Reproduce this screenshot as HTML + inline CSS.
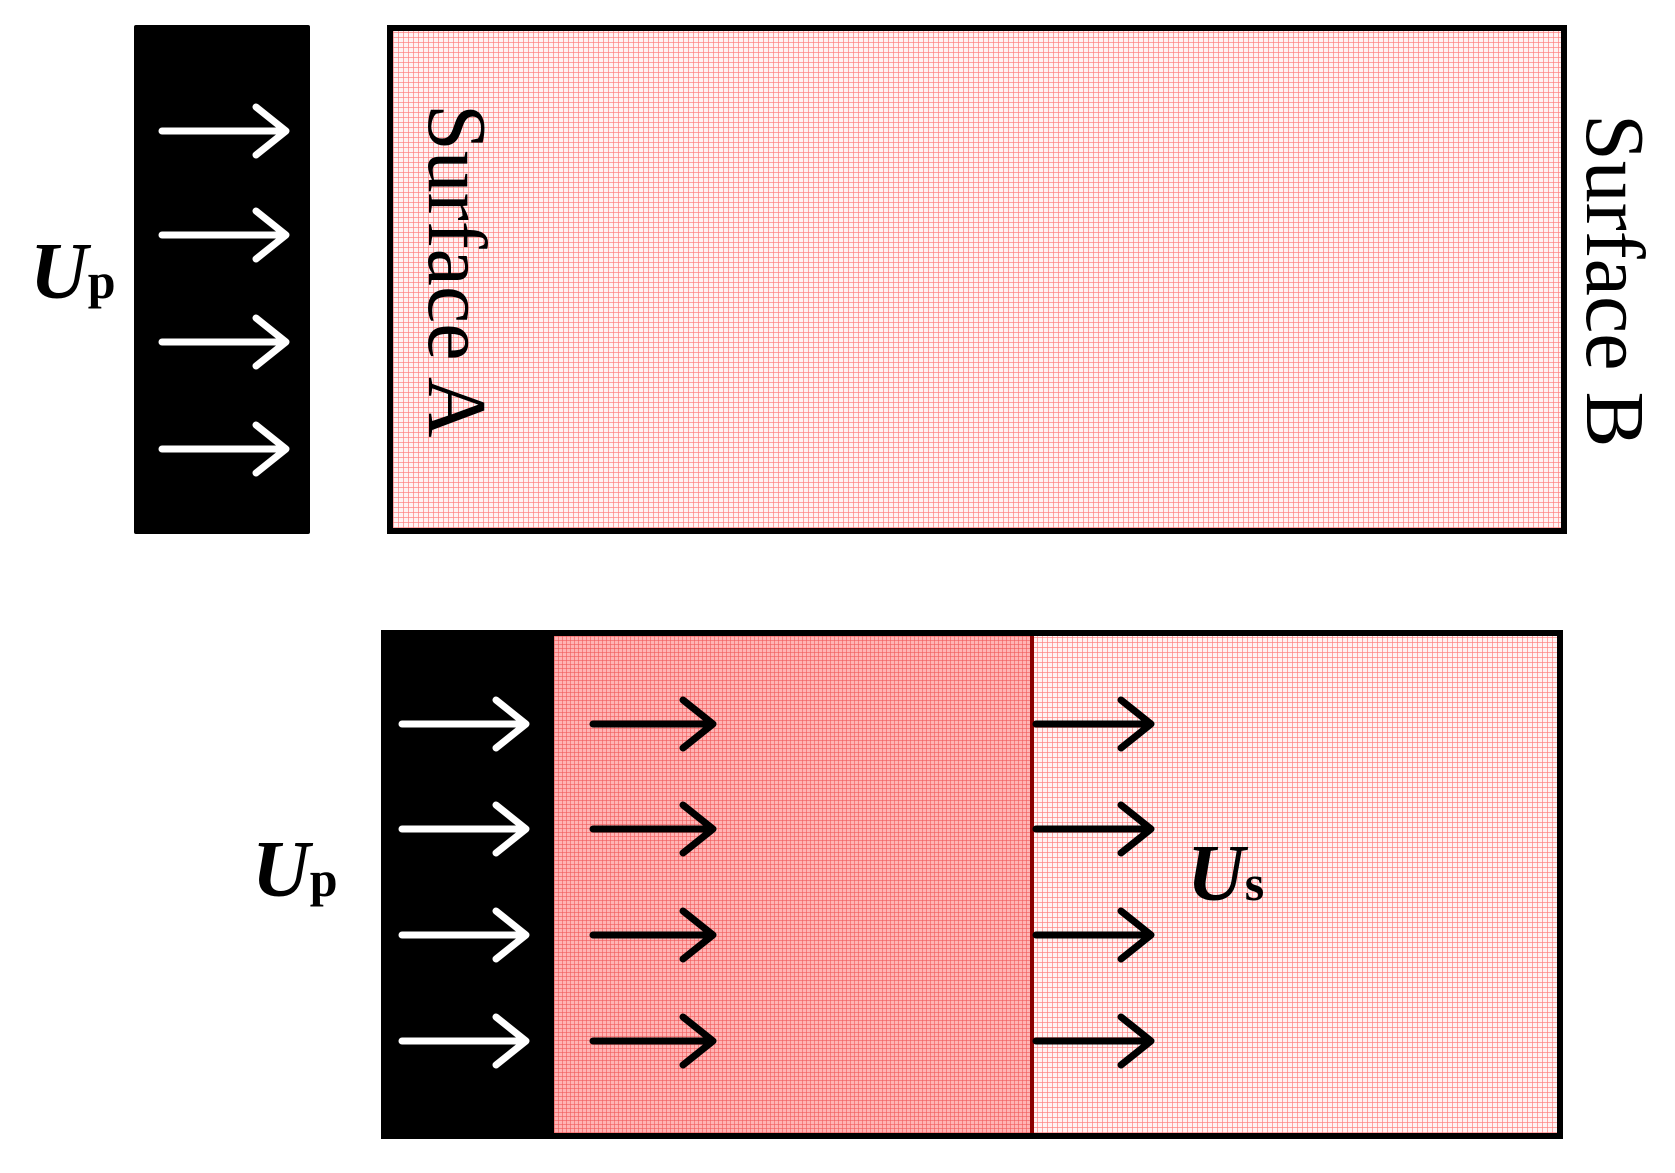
<!DOCTYPE html>
<html><head><style>
html,body{margin:0;padding:0;background:#fff}
body{width:1675px;height:1173px;position:relative;overflow:hidden;font-family:"Liberation Serif",serif}
.abs{position:absolute}
.light{background-color:#fff4f4;background-image:repeating-linear-gradient(90deg,rgba(255,130,130,.7) 0 1px,transparent 1px 5px),repeating-linear-gradient(0deg,rgba(255,130,130,.7) 0 1px,transparent 1px 5px)}
.dense{background-color:#ffb4b4;background-image:repeating-linear-gradient(90deg,rgba(240,90,90,.6) 0 1px,transparent 1px 4px),repeating-linear-gradient(0deg,rgba(240,90,90,.6) 0 1px,transparent 1px 4px)}
.lbl{font-weight:bold;font-style:italic;font-size:80px;line-height:1}
.sub{font-weight:bold;font-style:normal;font-size:50px}
.rot{transform-origin:0 0;transform:rotate(90deg);font-size:84px;white-space:nowrap;line-height:1}
</style></head><body>
<div class="abs" style="left:134px;top:25px;width:176px;height:509px;background:#000;border-radius:2px"></div>
<div class="abs light" style="left:387px;top:25px;width:1168px;height:497px;border:6px solid #000"></div>
<div class="abs rot" style="left:498px;top:104px">Surface A</div>
<div class="abs rot" style="left:1656px;top:114px">Surface B</div>
<div class="abs lbl" style="left:30px;top:232px">U<span class="sub">p</span></div>

<div class="abs light" style="left:381px;top:630px;width:1170px;height:497px;border:6px solid #000"></div>
<div class="abs" style="left:381px;top:630px;width:173px;height:509px;background:#000"></div>
<div class="abs dense" style="left:554px;top:636px;width:477px;height:497px"></div>
<div class="abs" style="left:1030px;top:636px;width:4px;height:497px;background:#8b0000"></div>
<div class="abs lbl" style="left:252px;top:830px">U<span class="sub">p</span></div>
<div class="abs lbl" style="left:1187px;top:834px">U<span class="sub">s</span></div>

<svg class="abs" style="left:0;top:0" width="1675" height="1173">
<g fill="none" stroke-width="7" stroke-linecap="round" stroke-linejoin="round">
<g stroke="#fff">
<path d="M162 131H284M256 107L286 131L256 155"/>
<path d="M162 235H284M256 211L286 235L256 259"/>
<path d="M162 342H284M256 318L286 342L256 366"/>
<path d="M162 449H284M256 425L286 449L256 473"/>
<path d="M402 724H524M496 700L526 724L496 748"/>
<path d="M402 829H524M496 805L526 829L496 853"/>
<path d="M402 935H524M496 911L526 935L496 959"/>
<path d="M402 1041H524M496 1017L526 1041L496 1065"/>
</g>
<g stroke="#000">
<path d="M593 724H710M683 700L713 724L683 748"/>
<path d="M593 829H710M683 805L713 829L683 853"/>
<path d="M593 935H710M683 911L713 935L683 959"/>
<path d="M593 1041H710M683 1017L713 1041L683 1065"/>
<path d="M1036 724H1148M1121 700L1151 724L1121 748"/>
<path d="M1036 829H1148M1121 805L1151 829L1121 853"/>
<path d="M1036 935H1148M1121 911L1151 935L1121 959"/>
<path d="M1036 1041H1148M1121 1017L1151 1041L1121 1065"/>
</g>
</g>
</svg>
</body></html>
